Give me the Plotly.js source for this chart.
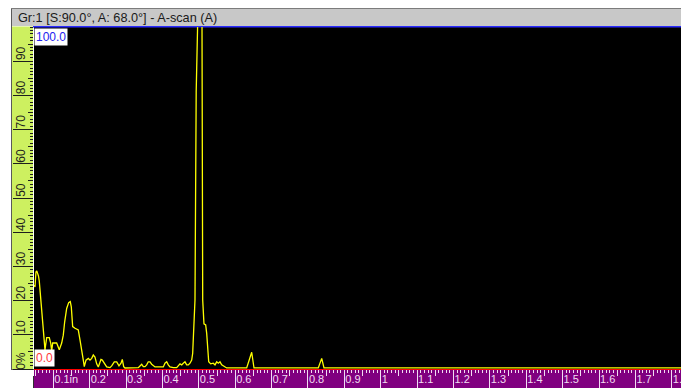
<!DOCTYPE html>
<html>
<head>
<meta charset="utf-8">
<script src="https://cdn.plot.ly/plotly-3.0.1.min.js"></script>
<style>html,body{margin:0;padding:0;background:#fff;}#chart{width:681px;height:388px;}</style>
</head>
<body>
<div id="chart"></div>
<script>
// ---- data ----
const depthIn = [0.0475,0.0497,0.0524,0.0546,0.0574,0.0593,0.0615,0.0654,0.0684,0.0709,0.0731,0.0750,0.0772,0.0794,0.0819,0.0890,0.0929,0.0956,0.0984,0.1093,0.1129,0.1165,0.1231,0.1275,0.1313,0.1368,0.1423,0.1467,0.1495,0.1533,0.1597,0.1687,0.1734,0.1781,0.1825,0.1852,0.1899,0.1962,0.2009,0.2056,0.2100,0.2146,0.2193,0.2237,0.2311,0.2347,0.2421,0.2468,0.2559,0.2605,0.2677,0.2743,0.2806,0.2861,0.2897,0.2935,0.2971,0.3246,0.3337,0.3383,0.3430,0.3474,0.3521,0.3567,0.3611,0.3658,0.3705,0.3796,0.3933,0.4024,0.4070,0.4117,0.4161,0.4208,0.4299,0.4392,0.4483,0.4530,0.4573,0.4620,0.4667,0.4711,0.4758,0.4804,0.4832,0.4848,0.4868,0.4895,0.4928,0.4964,0.5027,0.5088,0.5107,0.5142,0.5189,0.5217,0.5244,0.5272,0.5327,0.5398,0.5445,0.5492,0.5536,0.5582,0.5629,0.5673,0.5766,0.6316,0.6380,0.6454,0.6517,0.8284,0.8378,0.8441,1.8254];
const amplitude = [24.6,24.0,28.4,28.7,27.8,27.2,25.7,21.1,17.3,14.3,11.1,8.8,5.6,7.3,9.2,9.2,7.6,5.3,7.6,7.6,6.7,5.6,7.6,9.9,13.8,17.7,19.4,19.7,18.2,12.4,11.9,11.4,8.5,4.6,2.6,0.7,2.6,3.1,2.6,3.1,4.1,3.5,1.5,0.6,2.8,2.6,1.2,0.6,0.4,0.9,2.1,2.1,0.9,1.7,2.8,0.7,0.3,0.3,0.4,0.9,1.4,0.7,0.7,1.2,2.1,2.1,1.4,0.6,0.6,0.6,1.7,2.1,1.2,0.6,0.4,0.4,1.5,1.2,1.7,2.1,1.2,1.2,1.7,2.6,4.6,10.4,16.3,20.2,81,100,130,100,20.2,13.2,12.9,10.4,5.6,2.1,1.5,1.7,1.2,2.1,1.7,2.1,1.2,0.9,0.3,0.3,2.3,4.9,0.3,0.3,3.1,0.3,0.3];

const xTickVals = [0.1,0.2,0.3,0.4,0.5,0.6,0.7,0.8,0.9,1.0,1.1,1.2,1.3,1.4,1.5,1.6,1.7,1.8];
const xTickText = ['0.1in','0.2','0.3','0.4','0.5','0.6','0.7','0.8','0.9','1','1.1','1.2','1.3','1.4','1.5','1.6','1.7','1.8'];
const xMidVals = [0.05,0.15,0.25,0.35,0.45,0.55,0.65,0.75,0.85,0.95,1.05,1.15,1.25,1.35,1.45,1.55,1.65,1.75];
const yTickVals = [0,10,20,30,40,50,60,70,80,90];
const yTickText = ['0%','10','20','30','40','50','60','70','80','90'];
const yMidVals = [5,15,25,35,45,55,65,75,85,95];
const titleText = 'Gr:1 [S:90.0°, A: 68.0°] - A-scan (A)';

// ---- layout helpers (pixel -> paper) ----
const W = 681, H = 388, ML = 34, MR = 0, MT = 27, MB = 19;
const PW = W - ML - MR, PH = H - MT - MB;
const px = v => (v - ML) / PW;
const py = v => (H - MB - v) / PH;
function rect(x0, y0, x1, y1, color) {
  return {type:'rect', xref:'paper', yref:'paper', layer:'below',
    x0:px(x0), x1:px(x1), y0:py(y0), y1:py(y1),
    fillcolor:color, line:{width:0}};
}
const FONT = 'Liberation Sans, Arial, sans-serif';
const rulerInk = '#f2dcf2';

const traces = [
  {x: depthIn, y: amplitude, type:'scatter', mode:'lines',
   line:{color:'#ffff00', width:1.3}, hoverinfo:'skip'},
  {x: [], y: [], xaxis:'x2', yaxis:'y2', type:'scatter', mode:'lines', hoverinfo:'skip'}
];

const layout = {
  width: W, height: H,
  margin: {l:ML, r:MR, t:MT, b:MB, pad:0},
  paper_bgcolor:'#ffffff', plot_bgcolor:'#000000',
  showlegend:false,
  xaxis: {
    range:[0.0470, 1.8254], showgrid:false, zeroline:false,
    showline:true, linecolor:'#ff0000', linewidth:1,
    ticks:'outside', ticklen:18, tickwidth:1, tickcolor:rulerInk,
    tickmode:'array', tickvals:xTickVals, ticktext:xTickText,
    tickfont:{family:FONT, size:11, color:rulerInk},
    ticklabelposition:'outside right', ticklabelstandoff:2.5, ticklabeloverflow:'allow',
    minor:{dtick:0.01, tick0:0, ticklen:3, tickwidth:1, tickcolor:rulerInk, ticks:'outside', showgrid:false},
    fixedrange:true
  },
  xaxis2: {
    overlaying:'x', matches:'x', side:'bottom', showgrid:false, zeroline:false, showline:false,
    ticks:'outside', ticklen:6, tickwidth:1, tickcolor:rulerInk,
    tickmode:'array', tickvals:xMidVals, showticklabels:false, fixedrange:true
  },
  yaxis: {
    range:[0,100], showgrid:false, zeroline:false, showline:false,
    ticks:'outside', ticklen:20, tickwidth:1, tickcolor:'#1e1e1e',
    tickmode:'array', tickvals:yTickVals, ticktext:yTickText,
    tickangle:-90, tickfont:{family:FONT, size:12, color:'#1e1e1e'},
    ticklabelstandoff:-17, ticklabelshift:-6,
    minor:{dtick:1, tick0:0, ticklen:3, tickwidth:1, tickcolor:'#1e1e1e', ticks:'outside', showgrid:false},
    fixedrange:true
  },
  yaxis2: {
    overlaying:'y', matches:'y', side:'left', showgrid:false, zeroline:false, showline:false,
    ticks:'outside', ticklen:5, tickwidth:1, tickcolor:'#1e1e1e',
    tickmode:'array', tickvals:yMidVals, showticklabels:false, fixedrange:true
  },
  shapes: [
    rect(11, 9, 681, 26, '#c8c8c8'),
    rect(11, 8, 681, 9, '#7c7c7c'),
    rect(33, 26, 681, 27.4, '#2a2aff'),
    rect(11, 9, 12, 369.5, '#5a5a5a'),
    rect(12, 26.5, 33, 369, '#cdf060'),
    rect(11, 369, 34, 370, '#5a5a5a'),
    rect(34, 370, 681, 388, '#800080'),
    rect(33, 376, 34, 388, '#303030')
  ],
  annotations: [
    {xref:'paper', yref:'paper', x:px(16), y:py(17.5), xanchor:'left', yanchor:'middle',
     text:titleText, showarrow:false, font:{family:FONT, size:12.7, color:'#1a1a1a'}},
    {xref:'paper', yref:'paper', x:px(34), y:py(28), xanchor:'left', yanchor:'top',
     text:'100.0', showarrow:false, bgcolor:'#ffffff', borderpad:1,
     font:{family:FONT, size:12, color:'#2323f0'}},
    {xref:'paper', yref:'paper', x:px(34), y:py(367), xanchor:'left', yanchor:'bottom',
     text:'0.0', showarrow:false, bgcolor:'#ffffff', borderpad:1,
     font:{family:FONT, size:12, color:'#ff3a3a'}}
  ]
};

Plotly.newPlot('chart', traces, layout, {displayModeBar:false, staticPlot:true});
</script>
</body>
</html>
